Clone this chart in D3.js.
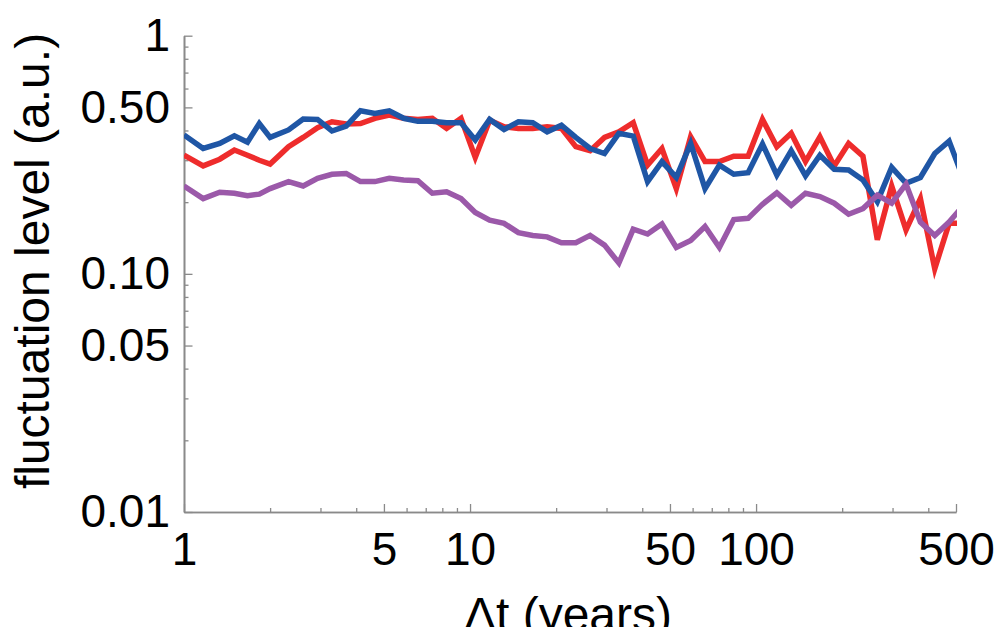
<!DOCTYPE html>
<html>
<head>
<meta charset="utf-8">
<script src="https://cdn.jsdelivr.net/npm/d3@7"></script>
<style>
  body { margin: 0; background: #fff; }
  text { font-family: "Liberation Sans", Arial, Helvetica, sans-serif; }
</style>
</head>
<body>
<script>

let width = 998, height = 627

// Δt in years (shared by all three curves)
let dt = [1, 1.167, 1.333, 1.5, 1.667, 1.833, 2,
    2.32, 2.61, 2.93, 3.29, 3.69, 4.14, 4.65, 5.22, 5.86, 6.57,
    7.38, 8.28, 9.30, 10.43, 11.71, 13.15, 14.76, 16.57, 18.60, 20.87,
    23.43, 26.30, 29.52, 33.14, 37.20, 41.76, 46.88, 52.62, 59.07, 66.31,
    74.43, 83.55, 93.78, 105.3, 118.2, 132.7, 148.9, 167.2, 187.6, 210.6,
    236.4, 265.4, 297.9, 334.4, 375.4, 421.4, 473.0, 531]

let redLevel = [0.315, 0.284, 0.303, 0.331, 0.315, 0.300, 0.289,
    0.342, 0.374, 0.411, 0.435, 0.426, 0.428, 0.450, 0.464, 0.450, 0.445,
    0.450, 0.408, 0.450, 0.308, 0.442, 0.415, 0.408, 0.408, 0.415, 0.408,
    0.342, 0.329, 0.374, 0.395, 0.431, 0.286, 0.336, 0.228, 0.376, 0.296,
    0.296, 0.312, 0.312, 0.445, 0.342, 0.389, 0.296, 0.376, 0.284, 0.353,
    0.312, 0.139, 0.234, 0.153, 0.207, 0.105, 0.163, 0.163]

let blueLevel = [0.383, 0.336, 0.353, 0.380, 0.357, 0.428, 0.374,
    0.402, 0.447, 0.445, 0.398, 0.417, 0.484, 0.472, 0.484, 0.450, 0.437,
    0.437, 0.431, 0.431, 0.365, 0.445, 0.404, 0.435, 0.431, 0.395, 0.421,
    0.374, 0.336, 0.320, 0.389, 0.379, 0.244, 0.296, 0.254, 0.353, 0.228,
    0.286, 0.262, 0.266, 0.351, 0.260, 0.329, 0.258, 0.315, 0.275, 0.273,
    0.248, 0.201, 0.280, 0.240, 0.254, 0.320, 0.361, 0.250]

let purpleLevel = [0.234, 0.207, 0.220, 0.218, 0.213, 0.216, 0.228,
    0.244, 0.234, 0.252, 0.262, 0.264, 0.244, 0.244, 0.252, 0.248, 0.246,
    0.218, 0.221, 0.207, 0.181, 0.168, 0.163, 0.149, 0.145, 0.143, 0.135,
    0.135, 0.145, 0.132, 0.111, 0.154, 0.147, 0.162, 0.129, 0.138, 0.158,
    0.129, 0.169, 0.171, 0.196, 0.219, 0.194, 0.218, 0.211, 0.198, 0.178,
    0.188, 0.214, 0.198, 0.238, 0.165, 0.145, 0.165, 0.194]

let xMajor = [1, 5, 10, 50, 100, 500]
let xMinor = [2, 3, 4, 6, 7, 8, 9, 20, 30, 40, 60, 70, 80, 90, 200, 300, 400]
let yMajor = [0.01, 0.05, 0.1, 0.5, 1]
let yMinor = [0.02, 0.03, 0.04, 0.06, 0.07, 0.08, 0.09, 0.2, 0.3, 0.4, 0.6, 0.7, 0.8, 0.9]
let yLabels = {0.01: '0.01', 0.05: '0.05', 0.1: '0.10', 0.5: '0.50', 1: '1'}

let series = [
    {name: 'red', values: redLevel, color: '#ee2c2c'},
    {name: 'blue', values: blueLevel, color: '#1f56a5'},
    {name: 'purple', values: purpleLevel, color: '#9b59a9'}
]

let x = d3.scaleLog().domain([1, 500]).range([184, 956])
let y = d3.scaleLog().domain([0.01, 1]).range([512, 35.7])

let svg = d3.select('body').append('svg')
    .attr('width', width)
    .attr('height', height)

svg.append('defs').append('clipPath').attr('id', 'plot')
    .append('rect')
    .attr('x', x(1)).attr('y', 0)
    .attr('width', x(500) - x(1) + 1).attr('height', y(0.01))

// axes (ticks point inward)
let axisColor = '#8a8a8a'

svg.append('g')
    .attr('transform', `translate(0,${y(0.01)})`)
    .call(d3.axisBottom(x).tickValues(xMinor).tickSize(-4).tickSizeOuter(0).tickFormat(''))
svg.append('g')
    .attr('class', 'xmajor')
    .attr('transform', `translate(0,${y(0.01)})`)
    .call(d3.axisBottom(x).tickValues(xMajor).tickSize(-8).tickSizeOuter(0)
        .tickPadding(20).tickFormat(d3.format('d')))

svg.append('g')
    .attr('transform', `translate(${x(1)},0)`)
    .call(d3.axisLeft(y).tickValues(yMinor).tickSize(-4.5).tickSizeOuter(0).tickFormat(''))
svg.append('g')
    .attr('class', 'ymajor')
    .attr('transform', `translate(${x(1)},0)`)
    .call(d3.axisLeft(y).tickValues(yMajor).tickSize(-8.5).tickSizeOuter(0)
        .tickPadding(14).tickFormat(d => yLabels[d]))

svg.selectAll('.domain').attr('stroke', axisColor).attr('stroke-width', 1.6)
svg.selectAll('.tick line').attr('stroke', axisColor).attr('stroke-width', 1.3)
svg.selectAll('.tick text')
    .attr('fill', '#000')
    .style('font-size', '46px')
    .style('font-family', '"Liberation Sans", Arial, Helvetica, sans-serif')

// curves
let line = d3.line()
    .x((d, i) => x(dt[i]))
    .y(d => y(d))

svg.append('g')
    .attr('clip-path', 'url(#plot)')
    .selectAll('path')
    .data(series)
    .enter().append('path')
    .attr('d', d => line(d.values))
    .attr('fill', 'none')
    .attr('stroke', d => d.color)
    .attr('stroke-width', 5.5)
    .attr('stroke-linejoin', 'miter')

// axis titles
svg.append('text')
    .attr('x', (x(1) + x(500)) / 2 - 2)
    .attr('y', 631)
    .attr('text-anchor', 'middle')
    .style('font-size', '48px')
    .text('Δt (years)')

svg.append('text')
    .attr('transform', `translate(49,${261}) rotate(-90)`)
    .attr('text-anchor', 'middle')
    .style('font-size', '48px')
    .text('fluctuation level (a.u.)')

</script>
</body>
</html>
